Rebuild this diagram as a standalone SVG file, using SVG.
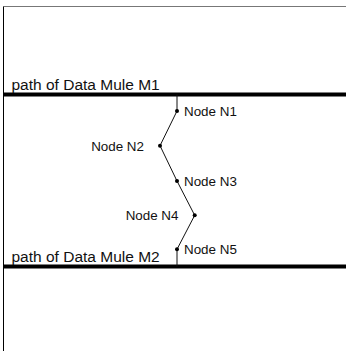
<svg xmlns="http://www.w3.org/2000/svg" width="346" height="351" viewBox="0 0 346 351">
<style>
text{font-family:"Liberation Sans",Arial,sans-serif;fill:#111}
.lbl{font-size:15.5px}
.nl{font-size:13.4px}
.mule{stroke:#000;stroke-width:4}
.link{stroke:#111;stroke-width:1;fill:none}
.dot{fill:#000}
</style>
<rect width="346" height="351" fill="#fff"/>
<line x1="3.5" y1="6.5" x2="346" y2="6.5" stroke="#777" stroke-width="1"/>
<line x1="3.5" y1="6.5" x2="3.5" y2="351" stroke="#000" stroke-width="1"/>
<g id="mule-m1">
<line class="mule" x1="3" y1="94.5" x2="346" y2="94.5"/>
<text class="lbl" x="11.5" y="89.5">path of Data Mule M1</text>
</g>
<g id="mule-m2">
<line class="mule" x1="3" y1="266.5" x2="346" y2="266.5"/>
<text class="lbl" x="11.5" y="262">path of Data Mule M2</text>
</g>
<g id="connectors">
<polyline class="link" points="177,94.5 177,111 160,145.7 177,181 194.7,215.3 177,249.3 177,266.5"/>
</g>
<g id="n1"><circle class="dot" cx="177" cy="111" r="2"/><text class="nl" x="184" y="115.5">Node N1</text></g>
<g id="n2"><circle class="dot" cx="160" cy="145.7" r="2"/><text class="nl" x="144" y="150.5" text-anchor="end">Node N2</text></g>
<g id="n3"><circle class="dot" cx="177" cy="181" r="2"/><text class="nl" x="184" y="186">Node N3</text></g>
<g id="n4"><circle class="dot" cx="194.7" cy="215.3" r="2"/><text class="nl" x="178.5" y="220" text-anchor="end">Node N4</text></g>
<g id="n5"><circle class="dot" cx="177" cy="249.3" r="2"/><text class="nl" x="184" y="254">Node N5</text></g>
</svg>
